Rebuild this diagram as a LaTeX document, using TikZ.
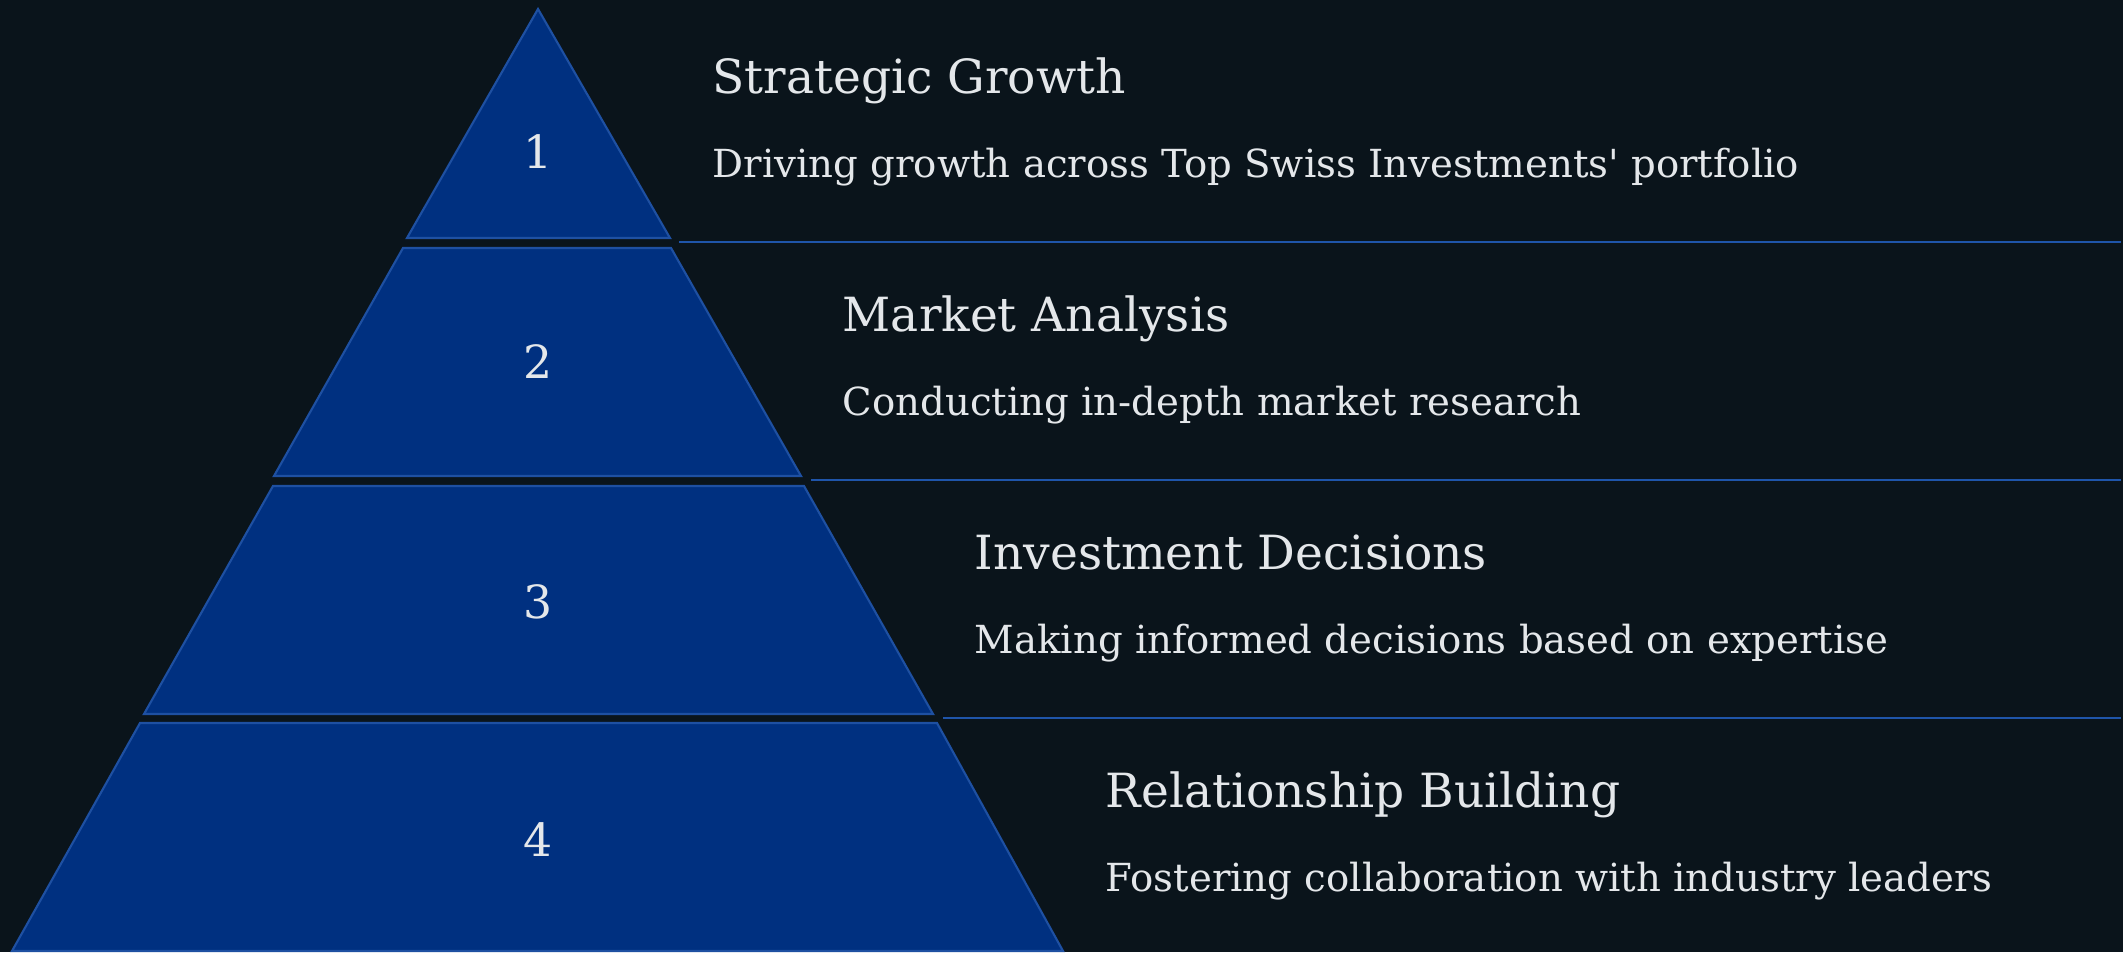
\documentclass[tikz,border=0pt]{standalone}
\usepackage{fontspec}
\setmainfont{DejaVu Serif}
\definecolor{bgdark}{HTML}{0A141B}
\definecolor{tierfill}{HTML}{003080}
\definecolor{tieredge}{HTML}{1E50A2}
\definecolor{sepline}{HTML}{1F55AA}
\definecolor{txtlight}{HTML}{E4E7EA}

\tikzset{tier/.style={fill=tierfill,draw=tieredge,line width=0.6pt,line join=miter}}
\tikzset{sep/.style={draw=sepline,line width=0.75pt}}
\tikzset{num/.style={text=txtlight,inner sep=0pt,font=\fontsize{13}{13}\selectfont}}
\tikzset{ttl/.style={text=txtlight,inner sep=0pt,anchor=base west,font=\fontsize{13.4}{13.4}\selectfont}}
\tikzset{dsc/.style={text=txtlight,inner sep=0pt,anchor=base west,font=\fontsize{11}{11}\selectfont}}

\begin{document}
\begin{tikzpicture}
    \fill[bgdark] (0,0) rectangle (21.23,-9.52);
    \useasboundingbox (0,0) rectangle (21.23,-9.52);
    % pyramid tiers, top to bottom
    \path[tier] (5.38,-0.09) -- (6.70,-2.38) -- (4.07,-2.38) -- cycle;
    \path[tier] (4.03,-2.48) -- (6.71,-2.48) -- (8.01,-4.76) -- (2.74,-4.76) -- cycle;
    \path[tier] (2.73,-4.86) -- (8.04,-4.86) -- (9.33,-7.14) -- (1.44,-7.14) -- cycle;
    \path[tier] (1.40,-7.23) -- (9.37,-7.23) -- (10.63,-9.51) -- (0.12,-9.51) -- cycle;
    % separator lines
    \coordinate (s1a) at (6.79,-2.42);  \coordinate (s1b) at (21.21,-2.42);
    \coordinate (s2a) at (8.11,-4.80);  \coordinate (s2b) at (21.21,-4.80);
    \coordinate (s3a) at (9.43,-7.18);  \coordinate (s3b) at (21.21,-7.18);
    \draw[sep] (s1a) -- (s1b);
    \draw[sep] (s2a) -- (s2b);
    \draw[sep] (s3a) -- (s3b);
    % tier numbers
    \node[num] (n1) at (5.38,-1.52) {1};
    \node[num] (n2) at (5.38,-3.62) {2};
    \node[num] (n3) at (5.38,-6.02) {3};
    \node[num] (n4) at (5.38,-8.40) {4};
    % titles and descriptions
    \node[ttl] (t1) at (7.12,-0.933) {Strategic Growth};
    \node[dsc] (d1) at (7.12,-1.773) {Driving growth across Top Swiss Investments\textquotesingle{} portfolio};
    \node[ttl] (t2) at (8.42,-3.31)  {Market Analysis};
    \node[dsc] (d2) at (8.42,-4.15)  {Conducting in-depth market research};
    \node[ttl] (t3) at (9.74,-5.69)  {Investment Decisions};
    \node[dsc] (d3) at (9.74,-6.53)  {Making informed decisions based on expertise};
    \node[ttl] (t4) at (11.05,-8.07) {Relationship Building};
    \node[dsc] (d4) at (11.05,-8.91) {Fostering collaboration with industry leaders};
\end{tikzpicture}
\end{document}
